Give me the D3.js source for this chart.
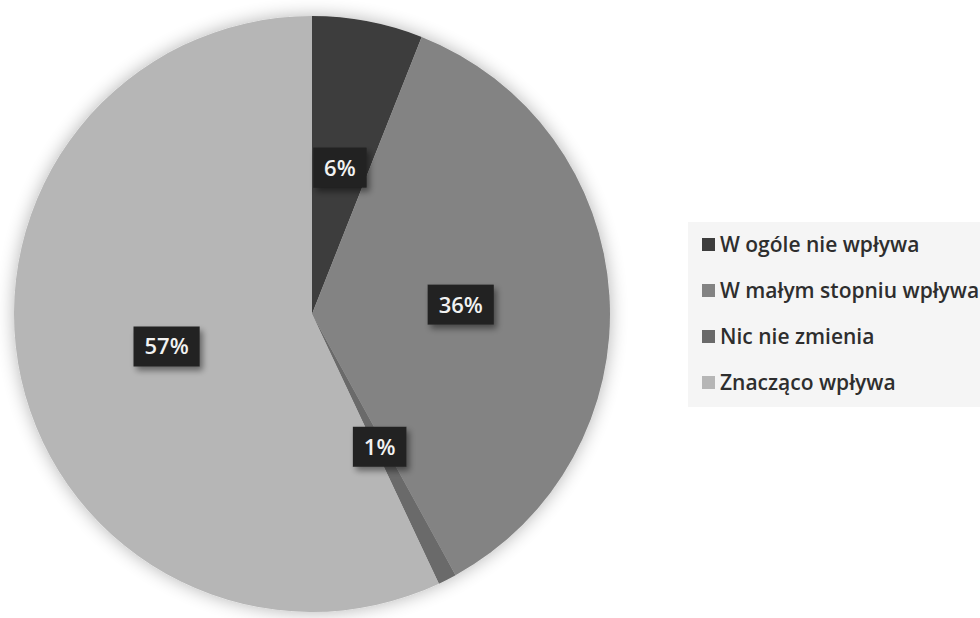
<!DOCTYPE html>
<html>
<head>
<meta charset="utf-8">
<script src="https://cdn.jsdelivr.net/npm/d3@7"></script>
<style>
  html, body { margin: 0; padding: 0; background: #ffffff; }
  svg { display: block; }
</style>
</head>
<body>
<svg id="chart" width="980" height="618"></svg>
<script>
// Survey answers, clockwise from 12 o'clock
const categories = ["W ogóle nie wpływa", "W małym stopniu wpływa", "Nic nie zmienia", "Znacząco wpływa"];
const values = [6, 36, 1, 57];
const labels = ["6%", "36%", "1%", "57%"];
const colors = ["#3d3d3d", "#838383", "#6a6a6a", "#b6b6b6"];

const svg = d3.select("#chart");
const cx = 312, cy = 314, R = 298;

const defs = svg.append("defs");

// soft halo around the pie
const halo = defs.append("filter").attr("id", "halo")
  .attr("x", "-20%").attr("y", "-20%").attr("width", "140%").attr("height", "140%");
halo.append("feGaussianBlur").attr("in", "SourceAlpha").attr("stdDeviation", 9).attr("result", "b");
halo.append("feComponentTransfer").attr("in", "b").attr("result", "s")
  .append("feFuncA").attr("type", "linear").attr("slope", 0.3);
const hm = halo.append("feMerge");
hm.append("feMergeNode").attr("in", "s");
hm.append("feMergeNode").attr("in", "SourceGraphic");

// drop shadow behind the value tags
const tagShadow = defs.append("filter").attr("id", "tagShadow")
  .attr("x", "-30%").attr("y", "-30%").attr("width", "170%").attr("height", "180%");
tagShadow.append("feGaussianBlur").attr("in", "SourceAlpha").attr("stdDeviation", 3).attr("result", "b");
tagShadow.append("feOffset").attr("in", "b").attr("dx", 3).attr("dy", 4).attr("result", "o");
tagShadow.append("feComponentTransfer").attr("in", "o").attr("result", "s")
  .append("feFuncA").attr("type", "linear").attr("slope", 0.45);
const tm = tagShadow.append("feMerge");
tm.append("feMergeNode").attr("in", "s");
tm.append("feMergeNode").attr("in", "SourceGraphic");

const color = d3.scaleOrdinal().domain(categories).range(colors);

const pie = d3.pie().sort(null).value(d => d.value);
const data = categories.map((c, i) => ({ name: c, value: values[i], label: labels[i] }));
const arcs = pie(data);
const arc = d3.arc().innerRadius(0).outerRadius(R);

const g = svg.append("g").attr("transform", `translate(${cx},${cy})`);

g.append("g").attr("filter", "url(#halo)")
  .selectAll("path").data(arcs).join("path")
  .attr("d", arc)
  .attr("fill", d => color(d.data.name));

// value tags at the slice centroids
const tags = g.append("g").selectAll("g").data(arcs).join("g")
  .attr("transform", d => `translate(${arc.centroid(d)})`);

tags.each(function(d) {
  const t = d3.select(this);
  const txt = t.append("text")
    .attr("text-anchor", "middle")
    .attr("dy", "0.36em")
    .attr("fill", "#f2f2f2")
    .attr("font-family", "'Open Sans', 'DejaVu Sans', sans-serif")
    .attr("font-size", 22)
    .attr("font-weight", 600)
    .text(d.data.label);
  const w = txt.node().getComputedTextLength() + 22;
  const h = 40;
  t.insert("rect", "text")
    .attr("x", -w / 2).attr("y", -h / 2)
    .attr("width", w).attr("height", h)
    .attr("fill", "#222222")
    .attr("filter", "url(#tagShadow)");
});

// legend
const legend = svg.append("g");
legend.append("rect")
  .attr("x", 688).attr("y", 222).attr("width", 300).attr("height", 185)
  .attr("fill", "#f5f5f5");

const rowY = d3.scalePoint().domain(categories).range([245, 383]);

const items = legend.selectAll("g.item").data(categories).join("g")
  .attr("class", "item")
  .attr("transform", d => `translate(702,${rowY(d)})`);

items.append("rect")
  .attr("x", 0).attr("y", -7).attr("width", 13).attr("height", 13)
  .attr("fill", d => color(d));

items.append("text")
  .attr("x", 18).attr("dy", "0.35em")
  .attr("fill", "#2e2e2e")
  .attr("font-family", "'Open Sans', 'DejaVu Sans', sans-serif")
  .attr("font-size", 21)
  .attr("font-weight", 600)
  .text(d => d);
</script>
</body>
</html>
